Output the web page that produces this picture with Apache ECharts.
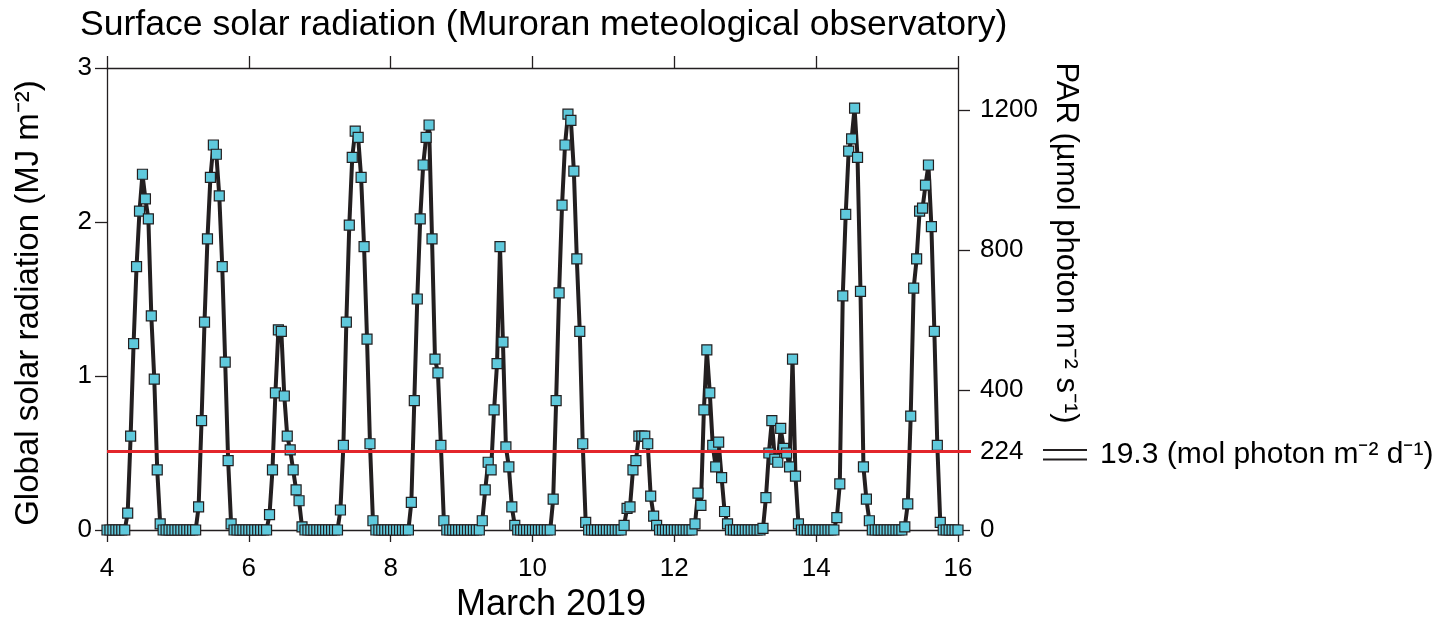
<!DOCTYPE html>
<html>
<head>
<meta charset="utf-8">
<script src="https://cdn.jsdelivr.net/npm/echarts@6/dist/echarts.min.js"></script>
<style>
html,body{margin:0;padding:0;background:#fff;}
#chart{width:1450px;height:627px;}
</style>
</head>
<body>
<div id="chart"></div>
<script>
// Hourly global solar radiation (MJ m^-2), hours 0..23 of each day, March 2019
const mar04 = [0,0,0,0,0,0,0,0.11,0.61,1.21,1.71,2.07,2.31,2.15,2.02,1.39,0.98,0.39,0.04,0,0,0,0,0];
const mar05 = [0,0,0,0,0,0,0,0.15,0.71,1.35,1.89,2.29,2.50,2.44,2.17,1.71,1.09,0.45,0.04,0,0,0,0,0];
const mar06 = [0,0,0,0,0,0,0,0.10,0.39,0.89,1.30,1.29,0.87,0.61,0.52,0.39,0.26,0.19,0.02,0,0,0,0,0];
const mar07 = [0,0,0,0,0,0,0,0.13,0.55,1.35,1.98,2.42,2.59,2.55,2.29,1.84,1.24,0.56,0.06,0,0,0,0,0];
const mar08 = [0,0,0,0,0,0,0,0.18,0.84,1.50,2.02,2.37,2.55,2.63,1.89,1.11,1.02,0.55,0.06,0,0,0,0,0];
const mar09 = [0,0,0,0,0,0,0,0.06,0.26,0.44,0.39,0.78,1.08,1.84,1.22,0.54,0.41,0.15,0.03,0,0,0,0,0];
const mar10 = [0,0,0,0,0,0,0,0.20,0.84,1.54,2.11,2.50,2.70,2.66,2.33,1.76,1.29,0.56,0.05,0,0,0,0,0];
const mar11 = [0,0,0,0,0,0,0,0.03,0.14,0.15,0.39,0.45,0.61,0.61,0.61,0.56,0.22,0.09,0.03,0,0,0,0,0];
const mar12 = [0,0,0,0,0,0,0,0.04,0.24,0.16,0.78,1.17,0.89,0.55,0.41,0.57,0.34,0.12,0.04,0,0,0,0,0];
const mar13 = [0,0,0,0,0,0,0.01,0.21,0.50,0.71,0.46,0.44,0.66,0.53,0.50,0.41,1.11,0.35,0.04,0,0,0,0,0];
const mar14 = [0,0,0,0,0,0,0,0.08,0.30,1.52,2.05,2.46,2.54,2.74,2.42,1.55,0.41,0.20,0.06,0,0,0,0,0];
const mar15 = [0,0,0,0,0,0,0.02,0.17,0.74,1.57,1.76,2.07,2.09,2.24,2.37,1.97,1.29,0.55,0.05,0,0,0,0,0];
const mar16 = [0];

const days = [4,5,6,7,8,9,10,11,12,13,14,15,16];
const dayValues = [mar04,mar05,mar06,mar07,mar08,mar09,mar10,mar11,mar12,mar13,mar14,mar15,mar16];

const xTicks = [4,6,8,10,12,14,16];
const leftTicks = [0,1,2,3];
const parTicks = [0,400,800,1200];
const parThreshold = 224;       // µmol photon m^-2 s^-1
const parDaily = '19.3';        // mol photon m^-2 d^-1
const parMax = 1320;            // PAR equivalent of 3 MJ m^-2

const points = [];
days.forEach((d, i) => {
  dayValues[i].forEach((v, h) => points.push([d + h / 24, v]));
});

const FONT = 'Liberation Sans, Arial, sans-serif';
const INK = '#231f20';
const RED = '#e3262b';

const chart = echarts.init(document.getElementById('chart'), null, {renderer: 'canvas'});
chart.setOption({
  animation: false,
  backgroundColor: '#ffffff',
  textStyle: {fontFamily: FONT, color: '#000'},
  title: {
    text: 'Surface solar radiation (Muroran meteological observatory)',
    left: 75, top: 2,
    textStyle: {fontSize: 35.6, fontWeight: 'normal', color: '#000', fontFamily: FONT}
  },
  grid: {left: 107, right: 492, top: 68, bottom: 97, containLabel: false, outerBoundsMode: 'none'},
  xAxis: [{
    type: 'value', position: 'bottom', min: 4, max: 16, interval: 2,
    name: 'March 2019', nameLocation: 'middle', nameGap: 56,
    nameTextStyle: {fontSize: 36, color: '#000', fontFamily: FONT, padding: [0,0,0,37]},
    axisLine: {show: true, onZero: false, lineStyle: {color: INK, width: 1.3}},
    axisTick: {show: true, inside: false, length: 12, lineStyle: {color: INK, width: 1.3}, customValues: xTicks},
    axisLabel: {fontSize: 26, color: '#000', margin: 26, fontFamily: FONT, customValues: xTicks},
    splitLine: {show: false}
  }, {
    type: 'value', position: 'top', min: 4, max: 16, interval: 2,
    axisLine: {show: true, onZero: false, lineStyle: {color: INK, width: 1.3}},
    axisTick: {show: true, inside: false, length: 12, lineStyle: {color: INK, width: 1.3}, customValues: xTicks},
    axisLabel: {show: false},
    splitLine: {show: false}
  }],
  yAxis: [{
    type: 'value', position: 'left', min: 0, max: 3, interval: 1,
    name: 'Global solar radiation (MJ m⁻²)', nameLocation: 'middle', nameGap: 62,
    nameTextStyle: {fontSize: 33, color: '#000', fontFamily: FONT, padding: [0, 8, 0, 0]},
    axisLine: {show: true, onZero: false, lineStyle: {color: INK, width: 1.3}},
    axisTick: {show: true, inside: false, length: 12, lineStyle: {color: INK, width: 1.3}, customValues: leftTicks},
    axisLabel: {fontSize: 26, color: '#000', margin: 15, fontFamily: FONT, customValues: leftTicks},
    splitLine: {show: false}
  }, {
    type: 'value', position: 'right', min: 0, max: parMax, offset: 0,
    axisLine: {show: true, onZero: false, lineStyle: {color: INK, width: 1.3}},
    axisTick: {show: true, inside: false, length: 12, lineStyle: {color: INK, width: 1.3}, customValues: parTicks},
    axisLabel: {fontSize: 26, color: '#000', margin: 22, fontFamily: FONT,
      customValues: parTicks.concat([parThreshold]),
      formatter: (v) => String(Math.round(v))},
    splitLine: {show: false}
  }, {
    type: 'value', position: 'right', min: 0, max: parMax, offset: 0,
    axisLine: {show: true, onZero: false, lineStyle: {color: 'rgba(0,0,0,0)', width: 1}},
    axisTick: {show: true, inside: false, length: 13, lineStyle: {color: RED, width: 3}, customValues: [parThreshold]},
    axisLabel: {show: false, customValues: [parThreshold]},
    splitLine: {show: false}
  }],
  graphic: [{
    type: 'text', x: 1066, y: 243, rotation: -Math.PI / 2,
    style: {text: 'PAR (µmol photon m⁻² s⁻¹)', font: '31px ' + FONT, fill: '#000', align: 'center', verticalAlign: 'middle'}
  }, {
    type: 'line', shape: {x1: 1043, y1: 450, x2: 1087, y2: 450}, style: {stroke: INK, lineWidth: 1.8}
  }, {
    type: 'line', shape: {x1: 1043, y1: 459.5, x2: 1087, y2: 459.5}, style: {stroke: INK, lineWidth: 1.8}
  }, {
    type: 'text', x: 1100, y: 455,
    style: {text: parDaily + ' (mol photon m⁻² d⁻¹)', font: '30px ' + FONT, fill: '#000', align: 'left', verticalAlign: 'middle'}
  }],
  series: [{
    type: 'line', xAxisIndex: 0, yAxisIndex: 0, data: points,
    showSymbol: false, symbol: 'none', z: 2,
    lineStyle: {color: INK, width: 4, join: 'round'}
  }, {
    type: 'line', xAxisIndex: 0, yAxisIndex: 1, data: [], z: 3,
    markLine: {
      silent: true, symbol: ['none', 'none'],
      lineStyle: {color: RED, width: 3, type: 'solid'},
      label: {show: false},
      data: [{yAxis: parThreshold}]
    }
  }, {
    type: 'line', xAxisIndex: 0, yAxisIndex: 2, data: [], z: 3
  }, {
    type: 'scatter', xAxisIndex: 0, yAxisIndex: 0, data: points, z: 4,
    symbol: 'rect', symbolSize: 10,
    itemStyle: {color: '#5fc9dc', borderColor: INK, borderWidth: 1.2, opacity: 1}
  }]
});
</script>
</body>
</html>
